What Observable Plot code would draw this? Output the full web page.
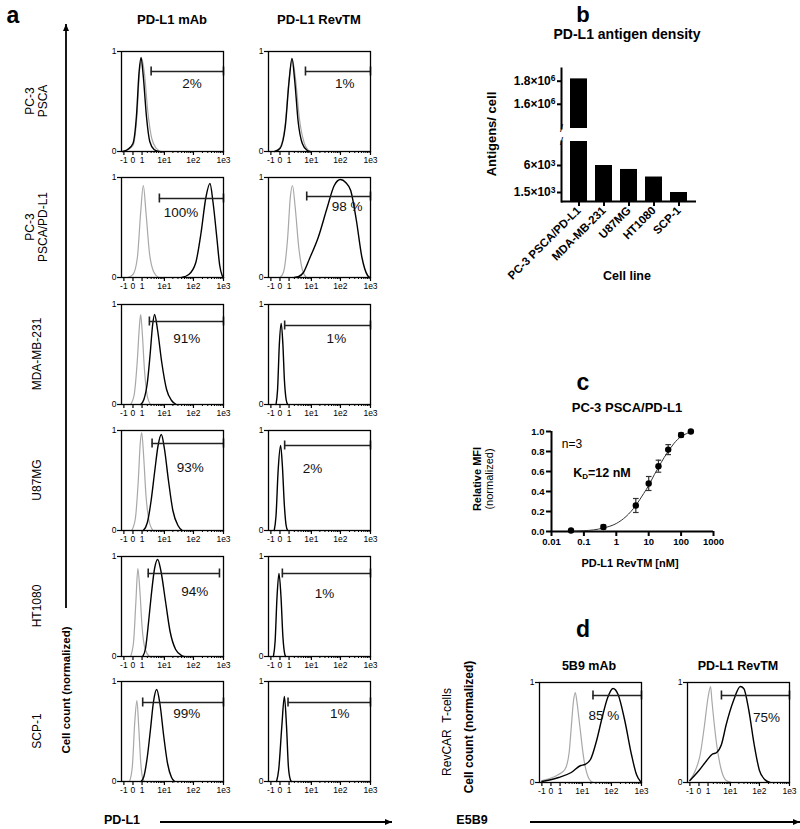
<!DOCTYPE html>
<html><head><meta charset="utf-8">
<script src="https://cdn.jsdelivr.net/npm/d3@7"></script>
<script src="https://cdn.jsdelivr.net/npm/@observablehq/plot@0.6"></script>
<style>
body{margin:0;background:#fff;}
#fig{position:relative;width:800px;height:829px;overflow:hidden;font-family:"Liberation Sans",Arial,sans-serif;color:#000;}
.lbl{position:absolute;white-space:nowrap;text-align:center;line-height:1.1;}
</style></head>
<body><div id="fig"></div>
<script>
// ---------------- DATA ----------------
const rowLabels = ["PC-3<br>PSCA", "PC-3<br>PSCA/PD-L1", "MDA-MB-231", "U87MG", "HT1080", "SCP-1"];
const colLabels = ["PD-L1 mAb", "PD-L1 RevTM"];
const flowTicks = [-1, 0, 1, 10, 100, 1000];
const flowTickLabels = ["-1", "0", "1", "1e1", "1e2", "1e3"];
const flowMinorTicks = [2,3,4,5,6,7,8,9,20,30,40,50,60,70,80,90,200,300,400,500,600,700,800,900];

// histogram curves: [fluorescence, normalized count]
const r1mAbGrey  = [[-1,0],[0,0.06],[0.35,0.35],[0.65,0.8],[0.95,0.93],[1.4,0.78],[2.1,0.4],[3.2,0.13],[5,0.03],[7.5,0]];
const r1mAbBlack = [[-1.2,0],[-0.5,0.02],[0,0.08],[0.3,0.35],[0.6,0.8],[0.85,0.94],[1.2,0.75],[1.8,0.35],[2.6,0.1],[4,0.02],[6,0]];
const r1RevGrey  = [[-0.5,0],[0,0.04],[0.5,0.28],[1,0.72],[1.55,0.92],[2.3,0.72],[3.4,0.33],[5.3,0.09],[8.5,0]];
const r1RevBlack = [[-0.5,0],[0,0.03],[0.5,0.25],[1,0.7],[1.5,0.93],[2.1,0.7],[3,0.3],[4.5,0.08],[7,0.01],[9,0]];
const r2mAbGrey  = [[-0.5,0],[0,0.03],[0.4,0.2],[0.8,0.65],[1.2,0.92],[1.7,0.65],[2.5,0.25],[3.8,0.06],[6,0]];
const r2mAbBlack = [[40,0],[70,0.03],[120,0.15],[180,0.45],[260,0.8],[355,0.94],[450,0.75],[600,0.4],[750,0.12],[900,0.02],[1000,0]];
const r2RevGrey  = [[0,0],[0.3,0.05],[0.8,0.4],[1.2,0.8],[1.6,0.92],[2.2,0.7],[3.2,0.3],[4.5,0.08],[6.5,0]];
const r2RevBlack = [[2,0],[3.2,0.01],[5,0.05],[8.6,0.19],[17.5,0.4],[35,0.69],[62,0.92],[100,0.98],[150,0.95],[220,0.87],[340,0.57],[520,0.2],[800,0.02],[950,0]];
const r3mAbGrey  = [[-0.2,0],[0.1,0.1],[0.4,0.45],[0.65,0.8],[0.8,0.9],[1.0,0.75],[1.4,0.35],[2,0.08],[2.8,0]];
const r3mAbBlack = [[0.8,0],[1.3,0.05],[2,0.22],[2.7,0.5],[3.5,0.8],[4.2,0.9],[5.5,0.75],[8,0.42],[12,0.15],[18,0.04],[26,0]];
const r3RevBlack = [[-0.35,0],[-0.2,0.15],[-0.05,0.6],[0.1,0.81],[0.25,0.6],[0.4,0.25],[0.6,0.05],[0.8,0]];
const r4mAbGrey  = [[-0.1,0],[0.2,0.12],[0.5,0.5],[0.75,0.88],[0.95,0.98],[1.25,0.75],[1.7,0.35],[2.4,0.1],[3.6,0]];
const r4mAbBlack = [[1.2,0],[2,0.08],[3,0.3],[4.2,0.58],[5.8,0.85],[7.7,0.96],[10,0.82],[14,0.5],[20,0.2],[30,0.05],[42,0]];
const r4RevBlack = [[-0.55,0],[-0.35,0.15],[-0.15,0.6],[0.05,0.85],[0.2,0.65],[0.4,0.25],[0.6,0.05],[0.8,0]];
const r5mAbGrey  = [[-0.2,0],[0.05,0.15],[0.25,0.55],[0.45,0.88],[0.7,0.65],[1.0,0.3],[1.5,0.08],[2.5,0]];
const r5mAbBlack = [[1.1,0],[1.6,0.08],[2.3,0.35],[3,0.6],[4.2,0.88],[5.6,0.97],[7.5,0.85],[11,0.55],[16,0.25],[25,0.07],[40,0.01],[48,0]];
const r5RevBlack = [[-0.65,0],[-0.45,0.15],[-0.25,0.6],[-0.08,0.83],[0.08,0.6],[0.25,0.2],[0.45,0.02],[0.55,0]];
const r6mAbGrey  = [[-0.3,0],[-0.05,0.15],[0.15,0.6],[0.35,0.81],[0.55,0.55],[0.8,0.2],[1.1,0.03],[1.4,0]];
const r6mAbBlack = [[0.85,0],[1.3,0.05],[2,0.25],[2.8,0.52],[3.8,0.8],[5.1,0.92],[6.8,0.78],[9.5,0.45],[13,0.18],[18,0.04],[23,0]];
const r6RevBlack = [[-0.3,0],[-0.1,0.12],[0.15,0.55],[0.4,0.85],[0.65,0.55],[0.9,0.15],[1.2,0.02],[1.4,0]];

// gates: [start, end, height, label, label x, label y]
const gatesMab = [[3,1000,0.80,"2%",90,0.68],[6.5,1000,0.79,"100%",38,0.65],[2.5,1000,0.83,"91%",60,0.66],[3.3,1000,0.87,"93%",78,0.63],[2.2,735,0.83,"94%",110,0.65],[1.1,1000,0.79,"99%",60,0.68]];
const gatesRev = [[6,1000,0.80,"1%",140,0.68],[6.7,1000,0.81,"98 %",166,0.71],[0.43,1000,0.79,"1%",73,0.66],[0.43,1000,0.85,"2%",11,0.62],[0.2,1000,0.83,"1%",29,0.63],[0.85,1000,0.79,"1%",95,0.68]];

// panel b
const bCells = ["PC-3 PSCA/PD-L1", "MDA-MB-231", "U87MG", "HT1080", "SCP-1"];
const bAntigens = [1820000, 6000, 5340, 4080, 1500];
const bUpperTicks = [1600000, 1800000];
const bUpperTickLabels = ["1.6×10⁶", "1.8×10⁶"];
const bLowerTicks = [1500, 6000];
const bLowerTickLabels = ["1.5×10³", "6×10³"];

// panel c
const cConc = [0.04, 0.4, 4, 10, 20, 40, 100, 200];
const cMFI  = [0.01, 0.045, 0.26, 0.48, 0.653, 0.819, 0.965, 1.0];
const cErr  = [0, 0.02, 0.07, 0.07, 0.06, 0.05, 0.02, 0];
const cFitX = [0.04, 0.1, 0.2, 0.4, 1, 2, 4, 7, 10, 15, 20, 30, 40, 60, 100, 150, 200];
const cFitY = [0.003, 0.008, 0.016, 0.035, 0.08, 0.15, 0.26, 0.38, 0.46, 0.57, 0.64, 0.74, 0.8, 0.88, 0.95, 0.98, 1.0];
const cXTicks = [0.01, 0.1, 1, 10, 100, 1000];
const cYTicks = [0, 0.2, 0.4, 0.6, 0.8, 1.0];

// panel d
const dTitles = ["5B9 mAb", "PD-L1 RevTM"];
const dMabGrey  = [[-1,0.02],[0.12,0.05],[0.78,0.08],[1.9,0.13],[3,0.3],[3.7,0.55],[4.6,0.82],[5.4,0.9],[6.3,0.8],[7.6,0.62],[11.5,0.22],[17.8,0.03],[24,0]];
const dMabBlack = [[-1,0.01],[0.78,0.05],[3.7,0.1],[8.7,0.17],[12.2,0.18],[19.4,0.23],[31.6,0.42],[48.7,0.65],[75,0.85],[113,0.94],[167,0.88],[278,0.62],[464,0.28],[681,0.08],[925,0.01]];
const dRevGrey  = [[-1,0.02],[-0.32,0.12],[0.1,0.28],[0.49,0.55],[1,0.85],[1.43,0.96],[1.68,0.82],[2.86,0.38],[4.56,0.12],[7,0.02],[11,0]];
const dRevBlack = [[-1,0.02],[0,0.12],[0.81,0.22],[1.68,0.28],[2.86,0.3],[4.56,0.38],[7,0.58],[13,0.82],[22.5,0.96],[29.5,0.94],[44,0.72],[66.5,0.38],[100,0.12],[150,0.03],[225,0]];
const gatesD = [[23.7,1000,0.87,"85 %",56,0.67],[4.56,1000,0.87,"75%",172,0.65]];

// ---------------- LAYOUT HELPERS ----------------
const fig = document.getElementById("fig");
const FONT = "'Liberation Sans', Arial, sans-serif";
function place(node, left, top) {
  node.style.position = "absolute";
  node.style.left = left + "px";
  node.style.top = top + "px";
  fig.appendChild(node);
}
function label(html, x, y, o = {}) {
  const d = document.createElement("div");
  d.className = "lbl";
  d.innerHTML = html;
  d.style.left = x + "px";
  d.style.top = y + "px";
  d.style.fontSize = (o.size || 12) + "px";
  d.style.fontWeight = o.bold ? "bold" : "normal";
  if (o.lh) d.style.lineHeight = o.lh;
  d.style.transform = "translate(-50%,-50%)" + (o.rot ? ` rotate(${o.rot}deg)` : "");
  fig.appendChild(d);
}
// turn unicode superscript digits in tick labels into real raised tspans
const supMap = {"⁰":"0","¹":"1","²":"2","³":"3","⁴":"4","⁵":"5","⁶":"6","⁷":"7","⁸":"8","⁹":"9"};
function raiseSuperscripts(svg) {
  d3.select(svg).selectAll("text").each(function() {
    const t = this.textContent;
    const m = t.match(/^(.*×10)([⁰¹²³⁴⁵⁶⁷⁸⁹])$/);
    if (!m) return;
    const sel = d3.select(this);
    sel.text(m[1]);
    sel.append("tspan").attr("dy", "-0.45em").attr("font-size", "8.5px").text(supMap[m[2]]);
  });
}

// ---------------- HISTOGRAM ----------------
const H_ML = 16, H_MT = 5, H_W = 102, H_H = 100;
function hist(grey, black, gate) {
  const g = {x1: gate[0], x2: gate[1], y: gate[2], label: gate[3], lx: gate[4], ly: gate[5]};
  const caps = [{x: g.x1, y1: g.y - 0.045, y2: g.y + 0.045}, {x: g.x2, y1: g.y - 0.045, y2: g.y + 0.045}];
  const fmt = d => flowTickLabels[flowTicks.indexOf(d)];
  return Plot.plot({
    width: H_ML + H_W + 4, height: H_MT + H_H + 18,
    marginLeft: H_ML, marginRight: 4, marginTop: H_MT, marginBottom: 18,
    x: {type: "symlog", constant: 1, domain: [-1.4, 1000]},
    y: {domain: [0, 1]},
    style: {fontFamily: FONT, fontSize: "8.5px", background: "none", color: "black", overflow: "visible"},
    marks: [
      Plot.axisX(flowTicks, {tickSize: 4, tickPadding: 1, tickFormat: fmt, strokeWidth: 1.2, label: null, fontSize: 8.5}),
      Plot.axisX(flowMinorTicks, {tickSize: 2, tickFormat: () => "", strokeWidth: 1, label: null}),
      Plot.axisY([0, 1], {tickSize: 4, tickPadding: 1, tickFormat: d => String(d), strokeWidth: 1.2, label: null, fontSize: 8.5}),
      grey ? Plot.line(grey, {x: d => d[0], y: d => d[1], stroke: "#a8a8a8", strokeWidth: 1.2, curve: "monotone-x"}) : null,
      Plot.line(black, {x: d => d[0], y: d => d[1], stroke: "#000", strokeWidth: 1.4, curve: "monotone-x"}),
      Plot.ruleY([g], {y: "y", x1: "x1", x2: "x2", stroke: "#222", strokeWidth: 1.4}),
      Plot.ruleX(caps, {x: "x", y1: "y1", y2: "y2", stroke: "#222", strokeWidth: 1.6}),
      Plot.text([g], {x: "lx", y: "ly", text: "label", fontSize: 13.5, fill: "#111"}),
      Plot.frame({stroke: "#000", strokeWidth: 1.3})
    ]
  });
}

// ---------------- PANEL A ----------------
const colFrameLeft = [121, 268];
const rowFrameTop = [51, 177, 304, 430, 556, 681];
const aCurves = [
  [[r1mAbGrey, r1mAbBlack], [r1RevGrey, r1RevBlack]],
  [[r2mAbGrey, r2mAbBlack], [r2RevGrey, r2RevBlack]],
  [[r3mAbGrey, r3mAbBlack], [null, r3RevBlack]],
  [[r4mAbGrey, r4mAbBlack], [null, r4RevBlack]],
  [[r5mAbGrey, r5mAbBlack], [null, r5RevBlack]],
  [[r6mAbGrey, r6mAbBlack], [null, r6RevBlack]]
];
rowFrameTop.forEach((top, r) => {
  [0, 1].forEach(c => {
    const [gr, bl] = aCurves[r][c];
    const gate = c === 0 ? gatesMab[r] : gatesRev[r];
    place(hist(gr, bl, gate), colFrameLeft[c] - H_ML, top - H_MT);
  });
  label(rowLabels[r], 37, top + 50, {size: 12, lh: 1.05, rot: -90});
});
label("a", 13, 16, {size: 23, bold: true});
label(colLabels[0], 172, 20, {size: 13, bold: true});
label(colLabels[1], 319, 20, {size: 13, bold: true});
label("Cell count (normalized)", 66, 690, {size: 11.5, bold: true, rot: -90});
label("PD-L1", 122, 821, {size: 12.5, bold: true});

// ---------------- PANEL D ----------------
const dFrameLeft = [538.5, 687];
const dFrameTop = 682;
place(hist(dMabGrey, dMabBlack, gatesD[0]), dFrameLeft[0] - H_ML, dFrameTop - H_MT);
place(hist(dRevGrey, dRevBlack, gatesD[1]), dFrameLeft[1] - H_ML, dFrameTop - H_MT);
label("d", 583, 630, {size: 23, bold: true});
label(dTitles[0], 589, 667, {size: 12.5, bold: true});
label(dTitles[1], 738, 667, {size: 12.5, bold: true});
label("RevCAR&nbsp; T-cells", 448, 732, {size: 12, rot: -90});
label("Cell count (normalized)", 470, 727, {size: 12, bold: true, rot: -90});
label("E5B9", 472, 821, {size: 12.5, bold: true});

// ---------------- PANEL B ----------------
const bData = bCells.map((cell, i) => ({cell, v: bAntigens[i]}));
const B_ML = 72, B_FW = 135;
const bStyle = {fontFamily: FONT, fontSize: "12px", fontWeight: "bold", background: "none", color: "black", overflow: "visible"};
const bUpper = Plot.plot({
  width: B_ML + B_FW + 10, height: 6 + 60 + 2,
  marginLeft: B_ML, marginRight: 10, marginTop: 6, marginBottom: 2,
  x: {type: "band", domain: bCells, padding: 0.33, axis: null},
  y: {domain: [1390000, 1910000]},
  style: bStyle,
  marks: [
    Plot.barY(bData, {x: "cell", y: "v", fill: "black", clip: true}),
    Plot.axisY(bUpperTicks, {tickSize: 4, tickPadding: 2, strokeWidth: 2, label: null, fontWeight: "bold", fontSize: 12,
      tickFormat: d => bUpperTickLabels[bUpperTicks.indexOf(d)]}),
    Plot.frame({anchor: "left", strokeWidth: 2}),
    Plot.text(["/"], {frameAnchor: "bottom-left", textAnchor: "middle", lineAnchor: "middle", fontSize: 11, fontWeight: "normal"})
  ]
});
raiseSuperscripts(bUpper);
place(bUpper, 560.5 - B_ML, 68 - 6);
const bLower = Plot.plot({
  width: B_ML + B_FW + 10, height: 3 + 60 + 85,
  marginLeft: B_ML, marginRight: 10, marginTop: 3, marginBottom: 85,
  x: {type: "band", domain: bCells, padding: 0.33},
  y: {domain: [0, 10000]},
  style: bStyle,
  marks: [
    Plot.barY(bData, {x: "cell", y: "v", fill: "black", clip: true}),
    Plot.axisY(bLowerTicks, {tickSize: 4, tickPadding: 2, strokeWidth: 2, label: null, fontWeight: "bold", fontSize: 12,
      tickFormat: d => bLowerTickLabels[bLowerTicks.indexOf(d)]}),
    Plot.axisX({tickSize: 5, tickPadding: 2, tickRotate: -45, strokeWidth: 2, label: null, fontWeight: "bold", fontSize: 11.5}),
    Plot.frame({anchor: "left", strokeWidth: 2}),
    Plot.ruleY([0], {strokeWidth: 2}),
    Plot.text(["/"], {frameAnchor: "top-left", textAnchor: "middle", lineAnchor: "middle", fontSize: 11, fontWeight: "normal"})
  ]
});
raiseSuperscripts(bLower);
place(bLower, 560.5 - B_ML, 141 - 3);
label("b", 583, 15, {size: 22, bold: true});
label("PD-L1 antigen density", 627, 35, {size: 14, bold: true});
label("Antigens/ cell", 492, 134, {size: 13, bold: true, rot: -90});
label("Cell line", 627, 277, {size: 12.5, bold: true});

// ---------------- PANEL C ----------------
const cData = cConc.map((x, i) => ({x, y: cMFI[i], e: cErr[i]}));
const cFit = cFitX.map((x, i) => ({x, y: cFitY[i]}));
const hbar = {draw(ctx, size) { const r = Math.sqrt(size / Math.PI); ctx.moveTo(-r, 0); ctx.lineTo(r, 0); }};
const cCaps = cData.filter(d => d.e > 0).flatMap(d => [{x: d.x, y: d.y - d.e}, {x: d.x, y: d.y + d.e}]);
const C_ML = 40, C_MT = 8, C_FW = 162, C_FH = 100;
const C_LEFT = 551, C_TOP = 431;
const cPlot = Plot.plot({
  width: C_ML + C_FW + 14, height: C_MT + C_FH + 22,
  marginLeft: C_ML, marginRight: 14, marginTop: C_MT, marginBottom: 22,
  x: {type: "log", domain: [0.01, 1000]},
  y: {domain: [0, 1]},
  style: {fontFamily: FONT, fontSize: "9.5px", fontWeight: "bold", background: "none", color: "black", overflow: "visible"},
  marks: [
    Plot.axisX(cXTicks, {tickSize: 5, tickPadding: 2, strokeWidth: 2, label: null, tickFormat: d => String(d), fontWeight: "bold"}),
    Plot.axisY(cYTicks, {tickSize: 5, tickPadding: 2, strokeWidth: 2, label: null, tickFormat: d => d.toFixed(1), fontWeight: "bold"}),
    Plot.ruleY([0], {strokeWidth: 2}),
    Plot.ruleX([0.01], {strokeWidth: 2}),
    Plot.line(cFit, {x: "x", y: "y", stroke: "#333", strokeWidth: 1, curve: "monotone-x"}),
    Plot.ruleX(cData.filter(d => d.e > 0), {x: "x", y1: d => d.y - d.e, y2: d => d.y + d.e, stroke: "#333", strokeWidth: 1.2}),
    Plot.dot(cCaps, {x: "x", y: "y", symbol: hbar, r: 2.8, stroke: "#333", strokeWidth: 1.2}),
    Plot.dot(cData, {x: "x", y: "y", r: 3.2, fill: "black", stroke: "none"})
  ]
});
place(cPlot, C_LEFT - C_ML, C_TOP - C_MT);
label("c", 583, 383, {size: 23, bold: true});
label("PC-3 PSCA/PD-L1", 627, 408, {size: 13, bold: true});
label("n=3", 572, 445, {size: 12});
label("K<sub style='font-size:8px;vertical-align:-2px'>D</sub>=12 nM", 602, 474, {size: 12.5, bold: true});
label("<b>Relative MFI</b><br>(normalized)", 484, 479, {size: 11, lh: 1.05, rot: -90});
label("PD-L1 RevTM [nM]", 630, 563, {size: 11, bold: true});

// ---------------- ARROWS ----------------
const ov = d3.create("svg").attr("width", 800).attr("height", 829)
  .style("position", "absolute").style("left", "0px").style("top", "0px");
function arrow(x1, y1, x2, y2) {
  ov.append("line").attr("x1", x1).attr("y1", y1).attr("x2", x2).attr("y2", y2).attr("stroke", "black").attr("stroke-width", 1.8);
  const a = Math.atan2(y2 - y1, x2 - x1), L = 7, W = 3;
  const p = [[x2, y2], [x2 - L * Math.cos(a) + W * Math.sin(a), y2 - L * Math.sin(a) - W * Math.cos(a)], [x2 - L * Math.cos(a) - W * Math.sin(a), y2 - L * Math.sin(a) + W * Math.cos(a)]];
  ov.append("polygon").attr("points", p.map(q => q.join(",")).join(" ")).attr("fill", "black");
}
arrow(66, 608, 66, 24);
arrow(160, 822, 392, 822);
arrow(530, 822, 800, 822);
fig.appendChild(ov.node());
</script>
</body></html>
